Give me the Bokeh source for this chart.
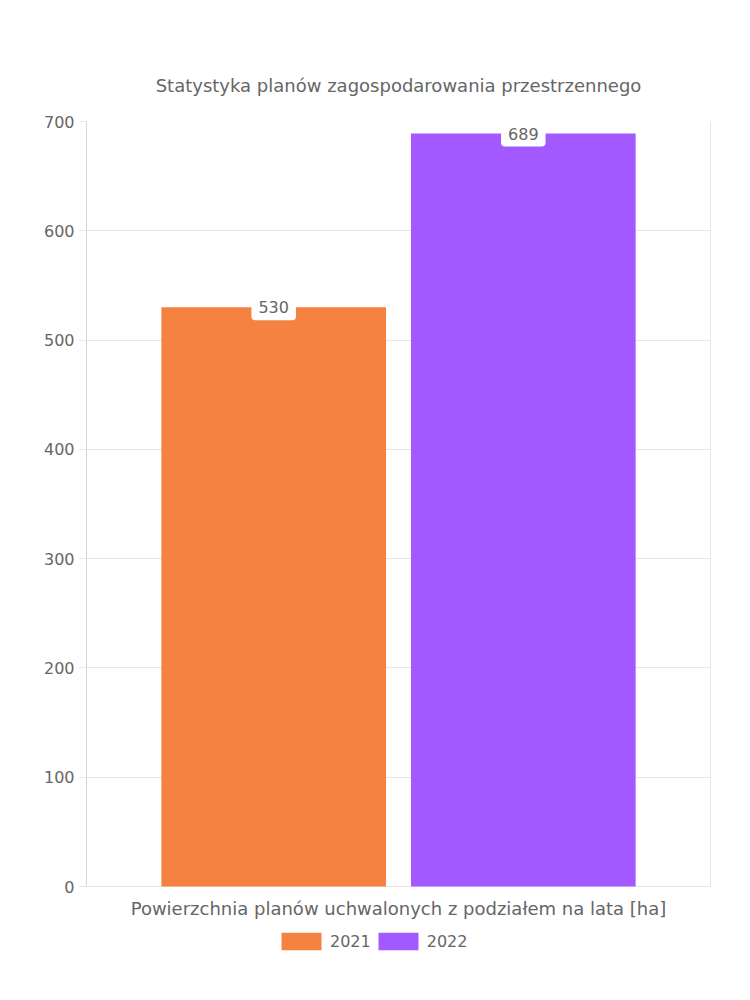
from bokeh.plotting import figure
from bokeh.models import (ColumnDataSource, FactorRange, Range1d, Legend, LegendItem,
                          FixedTicker, LinearAxis, Label)
from bokeh.core.properties import value
from bokeh.embed import file_html
from bokeh.resources import INLINE

title_text = "Statystyka planów zagospodarowania przestrzennego"
x_label = "Powierzchnia planów uchwalonych z podziałem na lata [ha]"
years = ["2021", "2022"]
values = [530, 689]
colors = ["#F58241", "#A259FF"]
y_ticks = [0, 100, 200, 300, 400, 500, 600, 700]

FONT = "DejaVu Sans"
GREY = "#666666"
GRID = "#e6e6e6"

src = ColumnDataSource(dict(year=years, val=values, lbl=[str(v) for v in values]))

y_top = y_ticks[-1]
# frame extends below the value axis so the axis title and legend sit inside it
y_bottom = y_top - 839 * y_top / 765

p = figure(frame_width=624, frame_height=839, output_backend="svg", toolbar_location=None,
           x_range=FactorRange(factors=years, range_padding=0.25, range_padding_units="absolute"),
           y_range=Range1d(y_bottom, y_top),
           min_border_left=86, min_border_right=40, min_border_top=121, min_border_bottom=40)

p.title.text = title_text
p.title.align = "center"
p.title.text_font = FONT
p.title.text_font_size = "18px"
p.title.text_font_style = "normal"
p.title.text_color = GREY
p.title.standoff = 51

r1 = p.vbar(x=[years[0]], top=[values[0]], width=0.9, color=colors[0], line_color=None)
r2 = p.vbar(x=[years[1]], top=[values[1]], width=0.9, color=colors[1], line_color=None)

p.text(x="year", y="val", text="lbl", source=src, text_align="center", text_baseline="middle",
       text_font=value(FONT), text_font_size="16px", text_color=GREY,
       background_fill_color="white", padding=7, border_radius=4)

p.outline_line_color = None
p.xgrid.grid_line_color = None
p.ygrid.grid_line_color = GRID

p.xaxis.visible = False

p.yaxis.ticker = FixedTicker(ticks=y_ticks)
p.yaxis.bounds = (0, y_top)
p.yaxis.major_tick_out = 7
p.yaxis.major_tick_in = 0
p.yaxis.minor_tick_line_color = None
p.yaxis.major_tick_line_color = GRID
p.yaxis.axis_line_color = "#d6d6d6"
p.yaxis.major_label_text_font = FONT
p.yaxis.major_label_text_font_size = "16px"
p.yaxis.major_label_text_color = GREY
p.yaxis.major_label_standoff = 5

right = LinearAxis(bounds=(0, y_top), ticker=FixedTicker(ticks=[]), axis_line_color=GRID,
                   major_tick_line_color=None, minor_tick_line_color=None)
p.add_layout(right, "right")

p.add_layout(Label(x=1.0, y=0, y_offset=-22, text=x_label, text_align="center",
                   text_baseline="middle", text_font=FONT, text_font_size="18px",
                   text_color=GREY))

legend = Legend(items=[LegendItem(label=value(years[0]), renderers=[r1]),
                       LegendItem(label=value(years[1]), renderers=[r2])],
                orientation="horizontal", location=(190, 8),
                glyph_width=50, glyph_height=22, label_height=22, label_standoff=4, spacing=2,
                padding=0, margin=0, border_line_color=None, background_fill_alpha=0,
                label_text_font=FONT, label_text_font_size="16px", label_text_color=GREY)
p.add_layout(legend)

open("out.html", "w").write(file_html(p, INLINE))
